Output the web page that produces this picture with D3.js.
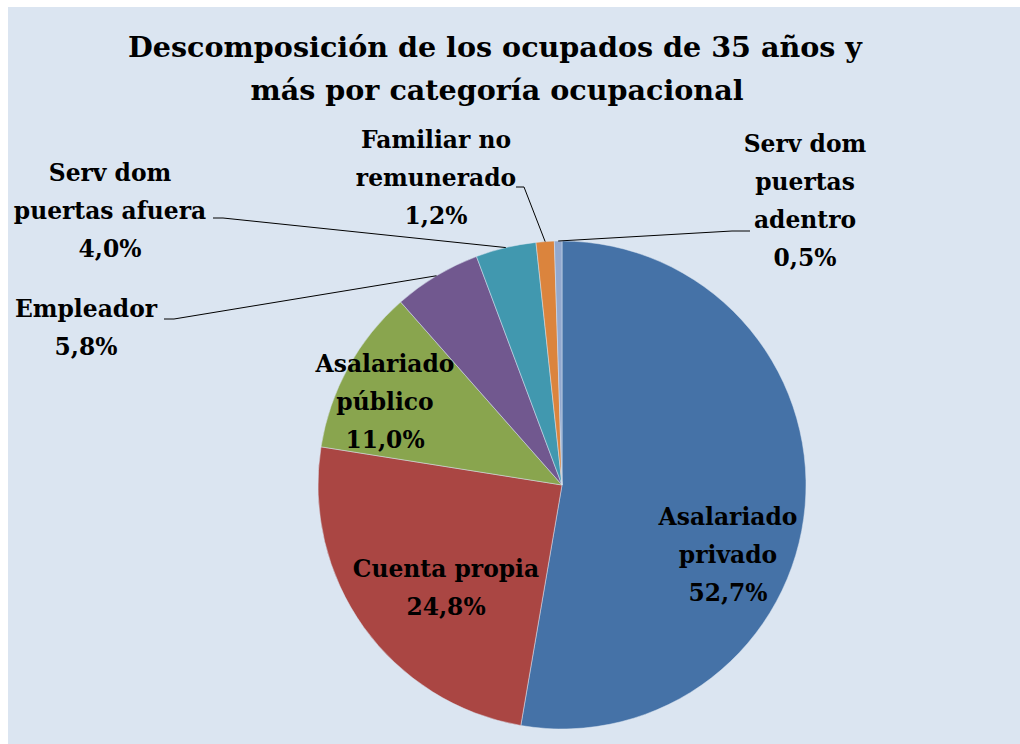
<!DOCTYPE html>
<html>
<head>
<meta charset="utf-8">
<script src="https://cdn.jsdelivr.net/npm/d3@7"></script>
<style>
  body { margin: 0; background: #ffffff; }
  text { font-family: "DejaVu Serif", serif; font-weight: bold; fill: #000; }
</style>
</head>
<body>
<div id="chart"></div>
<script>
// data
var categories = ["Asalariado privado", "Cuenta propia", "Asalariado público", "Empleador",
                  "Serv dom puertas afuera", "Familiar no remunerado", "Serv dom puertas adentro"];
var values = [52.7, 24.8, 11.0, 5.8, 4.0, 1.2, 0.5];
var valueLabels = ["52,7%", "24,8%", "11,0%", "5,8%", "4,0%", "1,2%", "0,5%"];
var labelLines = [["Asalariado", "privado"], ["Cuenta propia"], ["Asalariado", "público"], ["Empleador"],
                  ["Serv dom", "puertas afuera"], ["Familiar no", "remunerado"], ["Serv dom", "puertas", "adentro"]];
var colors = ["#4572a7", "#aa4643", "#89a54e", "#71588f", "#4198af", "#db843d", "#93a9cf"];

var width = 1020, height = 744;
var cx = 562, cy = 485, radius = 244;
var lineH = 38;

// label placement, relative to pie centre (x = centre of text, y = first baseline)
var labelPos = [
  {dx: 166, dy: 40},
  {dx: -116, dy: 92},
  {dx: -177, dy: -113},
  {dx: -476, dy: -168},
  {dx: -452, dy: -304},
  {dx: -126, dy: -337},
  {dx: 243, dy: -333}
];
// leader lines: label-side start and elbow (relative to centre), null = no leader
var leaders = [null, null, null,
  {x0: -398, y0: -166, x1: -388},
  {x0: -349, y0: -267, x1: -339},
  {x0: -46, y0: -298, x1: -38},
  {x0: 188, y0: -254, x1: 170}
];

var svg = d3.select("#chart").append("svg")
  .attr("width", width).attr("height", height);

svg.append("rect")
  .attr("x", 8).attr("y", 7)
  .attr("width", width - 8).attr("height", height - 7)
  .attr("fill", "#dbe5f1");

var title = svg.append("text")
  .attr("x", 495).attr("y", 57)
  .attr("text-anchor", "middle")
  .style("font-size", "28.6px");
title.append("tspan").attr("x", 495).text("Descomposición de los ocupados de 35 años y");
title.append("tspan").attr("x", 497).attr("dy", 43).text("más por categoría ocupacional");

var pie = d3.pie().sort(null).value(function(d){ return d; });
var arcs = pie(values);
var arc = d3.arc().innerRadius(0).outerRadius(radius);
var edge = d3.arc().innerRadius(radius).outerRadius(radius);

var g = svg.append("g").attr("transform", "translate(" + cx + "," + cy + ")");

g.selectAll("path.slice")
  .data(arcs)
  .enter().append("path")
  .attr("class", "slice")
  .attr("d", arc)
  .attr("fill", function(d, i){ return colors[i]; })
  .attr("stroke", "#dbe5f1")
  .attr("stroke-width", 0.5);

// leader lines
g.selectAll("path.leader")
  .data(arcs.filter(function(d, i){ return leaders[i]; }))
  .enter().append("path")
  .attr("class", "leader")
  .attr("fill", "none")
  .attr("stroke", "#000")
  .attr("stroke-width", 1)
  .attr("d", function(d){
    var L = leaders[d.index];
    var p = edge.centroid(d);
    return d3.line()([[L.x0, L.y0], [L.x1, L.y0], p]);
  });

// labels
var lbl = g.selectAll("text.lbl")
  .data(arcs)
  .enter().append("text")
  .attr("class", "lbl")
  .attr("text-anchor", "middle")
  .style("font-size", "23.4px");

lbl.each(function(d, i){
  var t = d3.select(this);
  var lines = labelLines[i].concat([valueLabels[i]]);
  lines.forEach(function(s, k){
    t.append("tspan")
      .attr("x", labelPos[i].dx)
      .attr("y", labelPos[i].dy + k * lineH)
      .text(s);
  });
});
</script>
</body>
</html>
